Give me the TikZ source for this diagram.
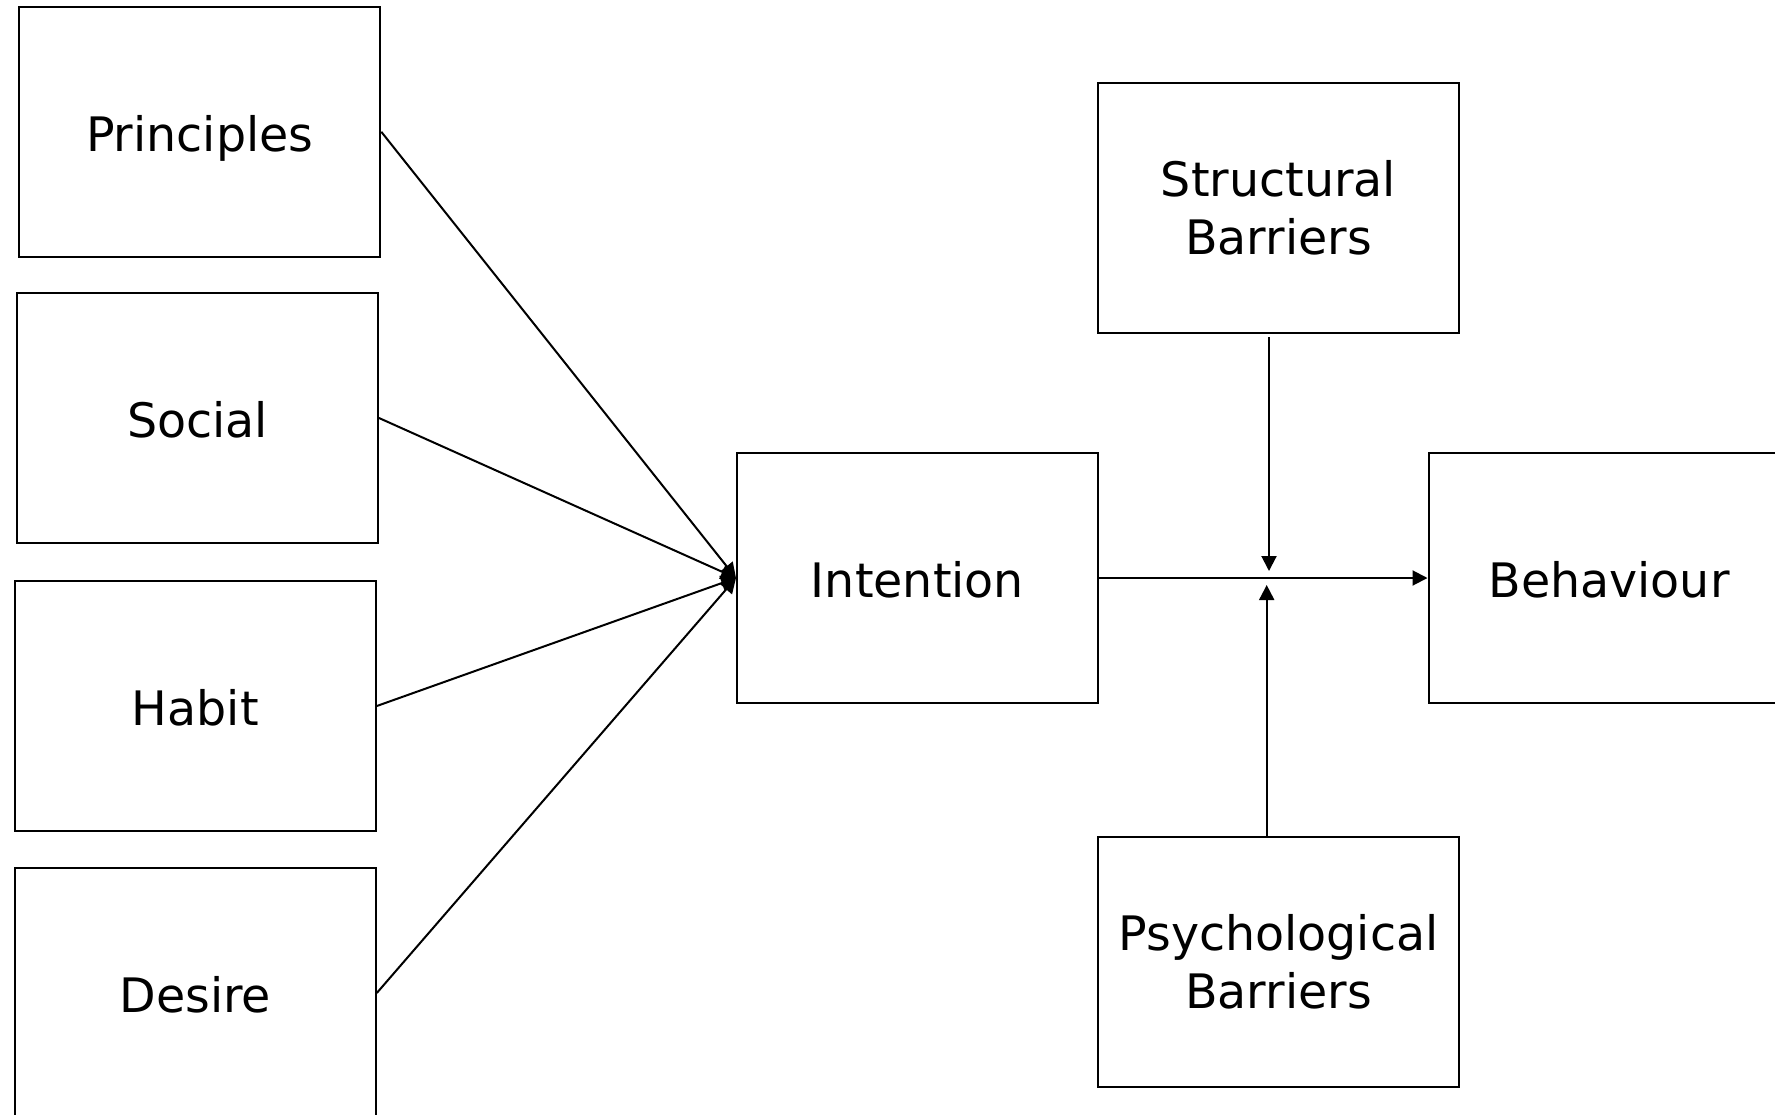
\documentclass[tikz,border=0pt]{standalone}
\usepackage{fontspec}
\setmainfont{DejaVu Sans}
\usetikzlibrary{arrows.meta,calc}
\begin{document}
\begin{tikzpicture}[x=1pt,y=-1pt,
  box/.style={draw=black,line width=2pt,minimum width=361pt,minimum height=250pt,inner sep=0pt,font=\fontsize{47.5}{58}\selectfont},
  one/.style={text height=39.4pt,text depth=0pt},
  two/.style={align=center},
  conn/.style={line width=2pt,-{Triangle[length=15pt,width=15pt]}}]
\clip (0,0) rectangle (1775,1114);
\fill[white] (0,0) rectangle (1775,1114);
\node[box,one] (pr) at (199.8,131.8) {Principles};
\node[box,one] (so) at (197.5,418) {Social};
\node[box,one] (ha) at (195.3,706) {Habit};
\node[box,one] (de) at (195.3,993) {Desire};
\node[box,one] (in) at (917.5,578) {Intention};
\node[box,two] (sb) at (1278.5,208) {Structural\\Barriers};
\node[box,two] (pb) at (1278.5,962) {Psychological\\Barriers};
\node[box,one] (be) at (1609,578) {Behaviour};
\coordinate (j1) at (1269,571);
\coordinate (j2) at (1266.7,585);
\draw[conn] (pr.east) -- (in.west);
\draw[conn] (so.east) -- (in.west);
\draw[conn] (ha.east) -- (in.west);
\draw[conn] (de.east) -- (in.west);
\draw[conn] (in.east) -- (be.west);
\draw[conn] ($(sb.south -| j1)+(0,3)$) -- (j1);
\draw[conn] (pb.north -| j2) -- (j2);
\end{tikzpicture}
\end{document}
